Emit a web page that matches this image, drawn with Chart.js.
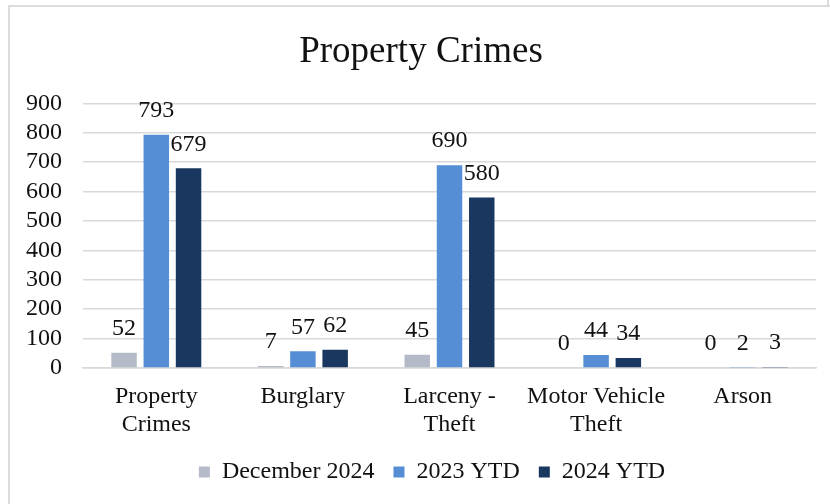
<!DOCTYPE html>
<html>
<head>
<meta charset="utf-8">
<script src="https://cdn.jsdelivr.net/npm/chart.js@4.4.1/dist/chart.umd.min.js"></script>
<style>
  html, body { margin: 0; padding: 0; background: #fff; }
  body { width: 830px; height: 504px; position: relative; overflow: hidden; }
  .frame {
    position: absolute; left: 8px; top: 5px; width: 830px; height: 510px;
    border-left: 2px solid #dcdcdc; border-top: 2px solid #dcdcdc;
  }
  .prev-edge { position: absolute; left: 827px; top: 0; width: 2px; height: 6px; background: #dcdcdc; }
  .wrap { position: absolute; left: 10px; top: 7px; width: 820px; height: 497px; }
</style>
</head>
<body>
<div class="prev-edge"></div>
<div class="frame"></div>
<div class="wrap"><canvas id="chart"></canvas></div>
<script>
// chart data
const categories = [['Property', 'Crimes'], 'Burglary', ['Larceny -', 'Theft'], ['Motor Vehicle', 'Theft'], 'Arson'];
const seriesNames = ['December 2024', '2023 YTD', '2024 YTD'];
const december2024 = [52, 7, 45, 0, 0];
const ytd2023 = [793, 57, 690, 44, 2];
const ytd2024 = [679, 62, 580, 34, 3];
const seriesColors = ['#b4bac7', '#558ed5', '#1a3760'];
const yTicks = { min: 0, max: 900, step: 100 };

const FONT = "'Liberation Serif', 'Times New Roman', serif";
Chart.defaults.font.family = FONT;
Chart.defaults.color = '#111';

// value labels above each bar
const barValues = {
    id: 'barValues',
    afterDatasetsDraw: function(chart) {
        const ctx = chart.ctx;
        ctx.save();
        ctx.font = '24px ' + FONT;
        ctx.fillStyle = '#111';
        ctx.textAlign = 'center';
        ctx.textBaseline = 'middle';
        chart.data.datasets.forEach((ds, i) => {
            const meta = chart.getDatasetMeta(i);
            meta.data.forEach((bar, j) => {
                ctx.fillText(String(ds.data[j]), bar.x, bar.y - 24);
            });
        });
        ctx.restore();
    }
};

// nudge the legend a little right, like the original
const legendShift = {
    id: 'legendShift',
    afterLayout: function(chart) {
        if (!chart.legend) return;
        chart.legend.left += 11;
        chart.legend.right += 11;
    }
};

const allSeries = [december2024, ytd2023, ytd2024];

new Chart(document.getElementById('chart'), {
    type: 'bar',
    data: {
        labels: categories,
        datasets: allSeries.map((vals, i) => ({
            label: seriesNames[i],
            data: vals,
            backgroundColor: seriesColors[i],
            borderWidth: 0,
            categoryPercentage: 0.66,
            barPercentage: 0.79
        }))
    },
    options: {
        responsive: true,
        maintainAspectRatio: false,
        animation: false,
        layout: { padding: { left: 16, right: 14, top: 0, bottom: 10 } },
        scales: {
            y: {
                min: yTicks.min,
                max: yTicks.max,
                ticks: { stepSize: yTicks.step, padding: 21, autoSkip: false, font: { size: 24 }, color: '#111' },
                grid: { color: '#d9d9d9', lineWidth: 1.5, drawTicks: false },
                border: { display: false },
                afterFit: function(scale) { scale.width = 57; }
            },
            x: {
                ticks: { font: { size: 24 }, color: '#111', padding: 14, maxRotation: 0, autoSkip: false },
                grid: { display: false, drawTicks: false },
                border: { color: '#d9d9d9', width: 1.5 },
                afterFit: function(scale) { scale.height = 73; }
            }
        },
        plugins: {
            title: {
                display: true,
                text: 'Property Crimes',
                font: { size: 37, weight: 'normal' },
                color: '#111',
                padding: { top: 23, bottom: 29 }
            },
            legend: {
                position: 'bottom',
                labels: { boxWidth: 11, boxHeight: 11, padding: 19, font: { size: 24 }, color: '#111' }
            },
            tooltip: { enabled: false }
        }
    },
    plugins: [barValues, legendShift]
});
</script>
</body>
</html>
